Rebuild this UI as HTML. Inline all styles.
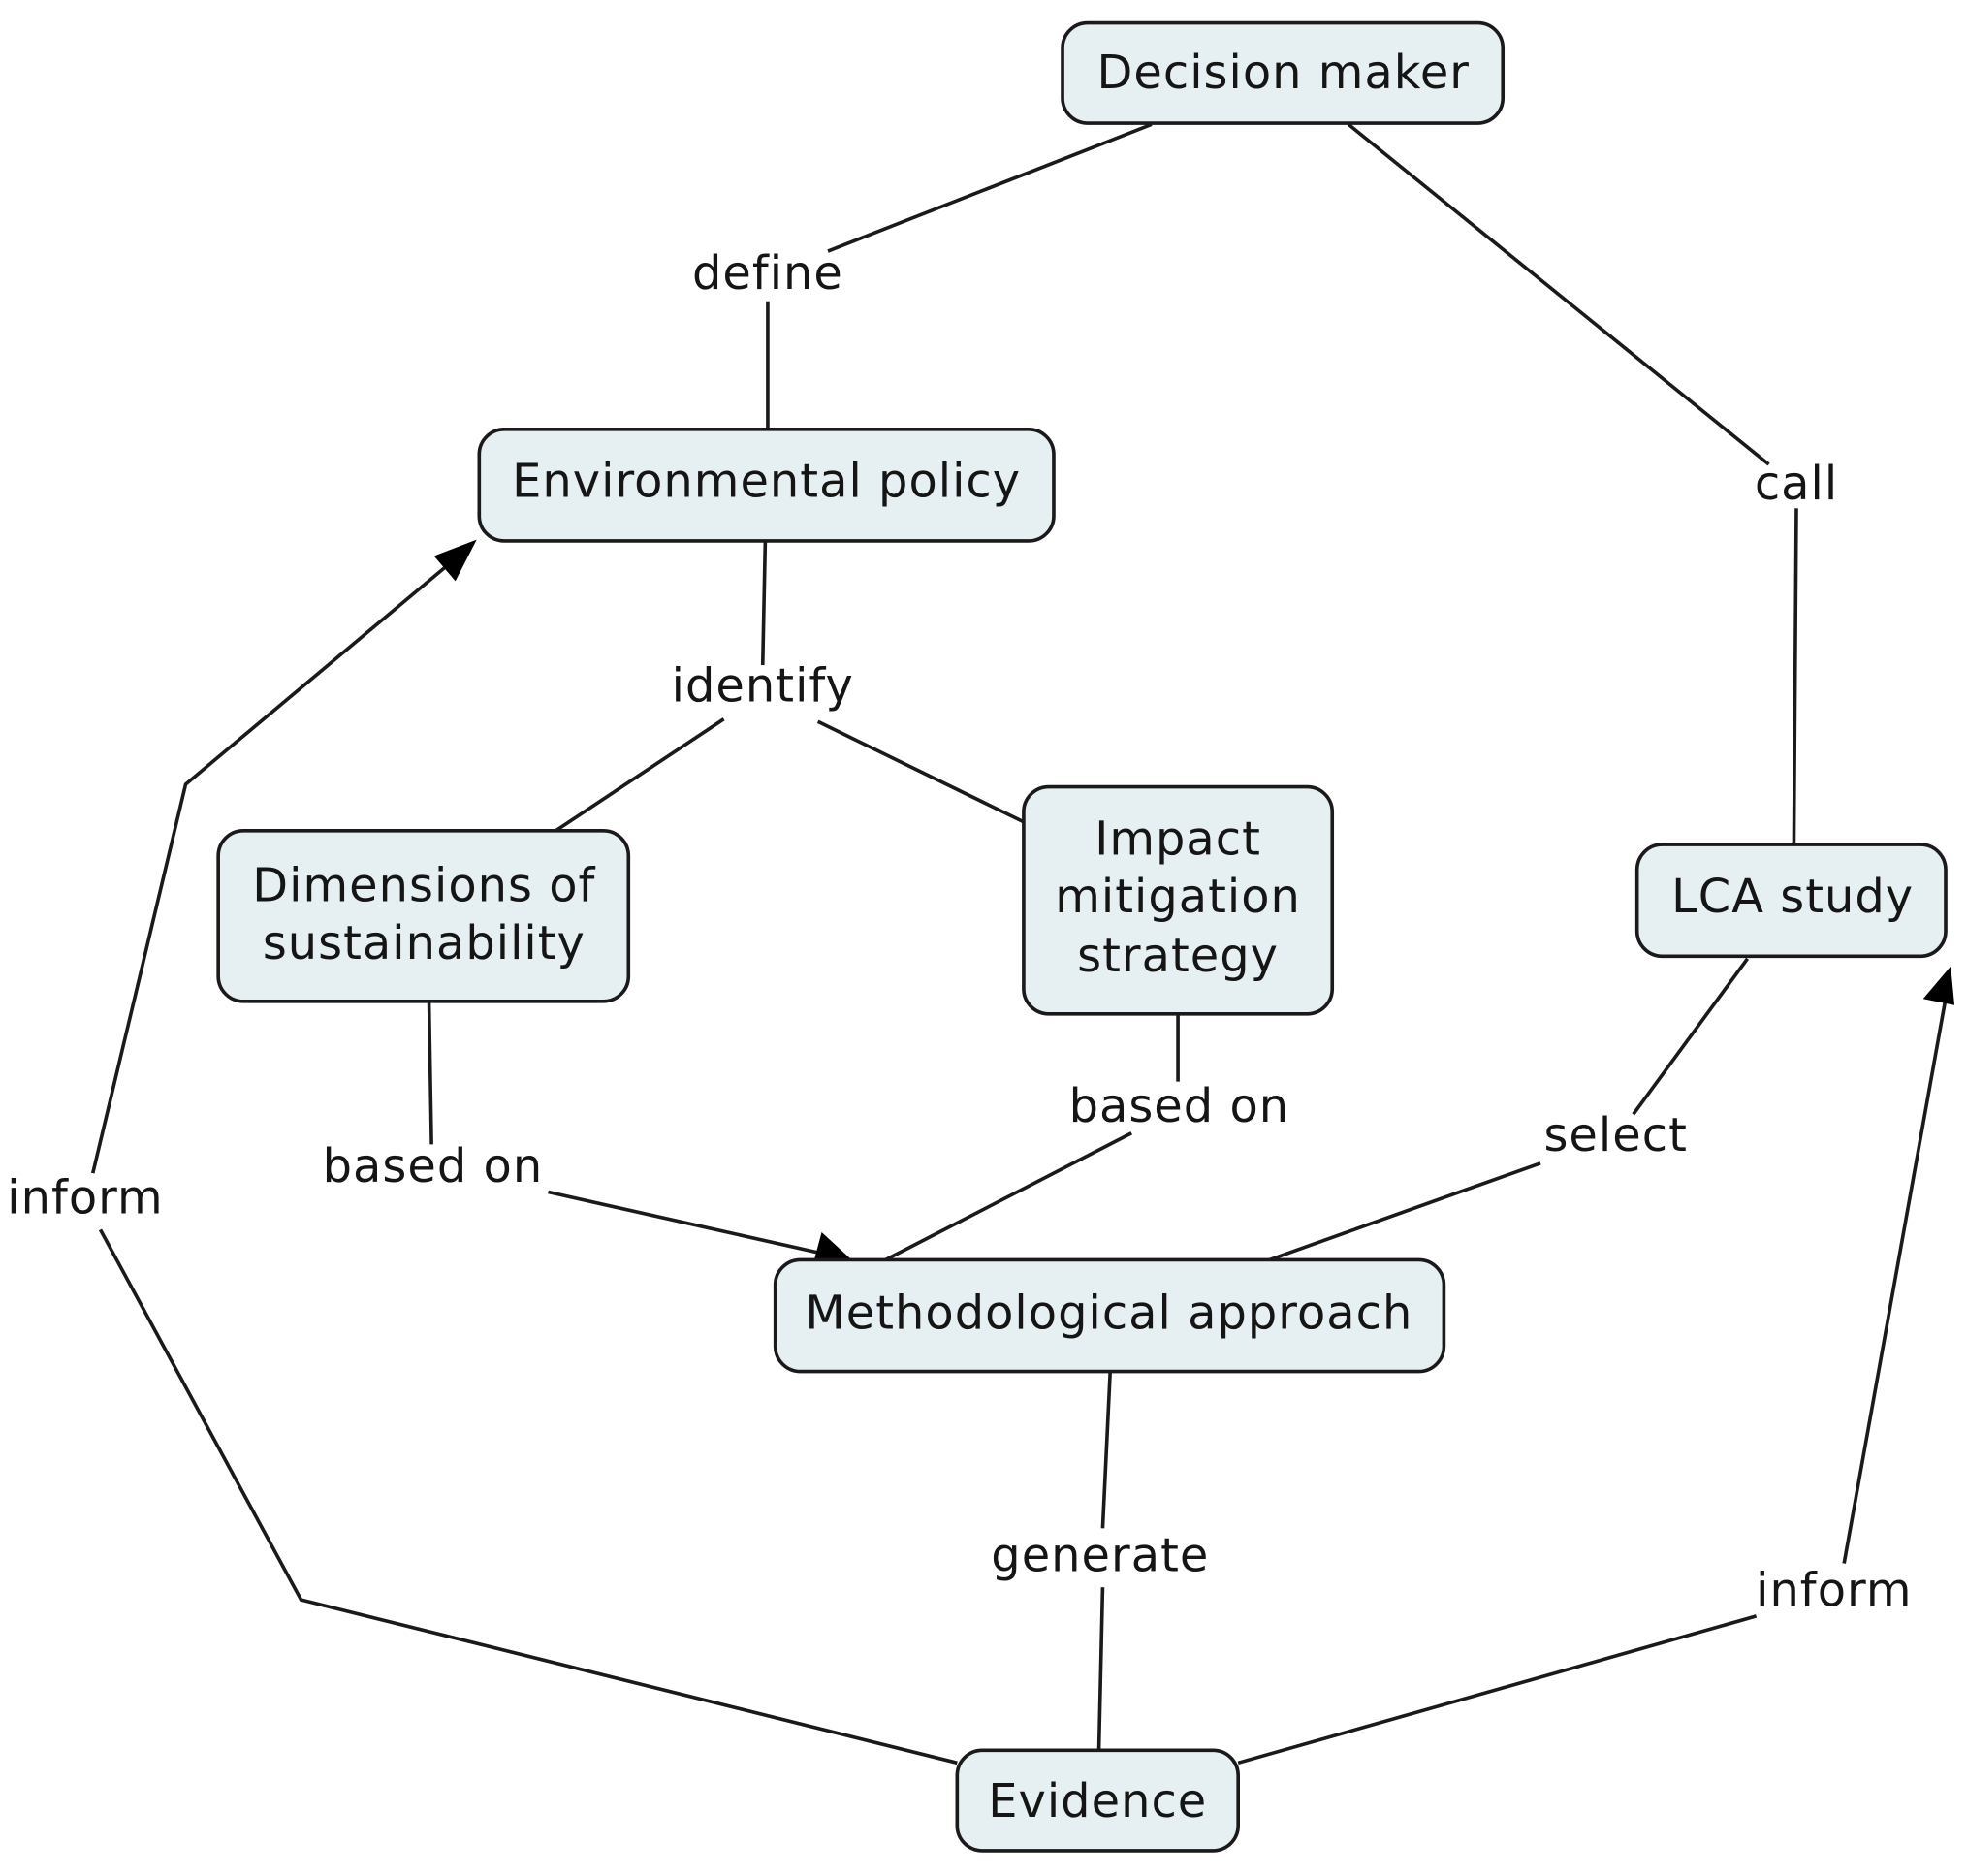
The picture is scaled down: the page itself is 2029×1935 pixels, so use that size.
<!DOCTYPE html>
<html><head><meta charset="utf-8"><style>
html,body{margin:0;padding:0;background:#fff;}
svg{display:block;}
text{font-family:"DejaVu Sans","Liberation Sans",sans-serif;font-size:37px;letter-spacing:0.8px;fill:#151515;text-anchor:middle;dominant-baseline:central;}
.n{fill:#e6f0f2;stroke:#1a1a1a;stroke-width:2.8;}
.l{stroke:#1a1a1a;stroke-width:2.8;fill:none;}
</style></head><body>
<svg width="2029" height="1935" viewBox="0 0 1568 1495" xmlns="http://www.w3.org/2000/svg">
<rect width="1568" height="1495" fill="#fff"/>
<g class="l">
<polyline class="l" points="918,99 660,200"/>
<polyline class="l" points="612,240 612,342"/>
<polyline class="l" points="1075,99 1410,370"/>
<polyline class="l" points="1432,405 1430,673"/>
<polyline class="l" points="610,432 608,530"/>
<polyline class="l" points="577,573 443,662"/>
<polyline class="l" points="652,575 816,655"/>
<polyline class="l" points="342,798 344,912"/>
<polyline class="l" points="437,950 660,1000"/>
<polyline class="l" points="939,808 939,862"/>
<polyline class="l" points="902,903 706,1004"/>
<polyline class="l" points="1393,764 1302,888"/>
<polyline class="l" points="1228,927 1012,1004"/>
<polyline class="l" points="885,1093 879,1218"/>
<polyline class="l" points="879,1265 876,1395"/>
<polyline class="l" points="763,1405 240,1275 80,980"/>
<polyline class="l" points="74,935 148,625 362,446"/>
<polyline class="l" points="987,1405 1400,1288"/>
<polyline class="l" points="1470,1246 1552,790"/>
</g>
<polygon points="680,1005 648,1008 655,982" fill="#000"/>
<polygon points="380,430 346,443 363,463" fill="#000"/>
<polygon points="1555,770 1533,796 1558,801" fill="#000"/>
<rect class="n" x="847" y="18" width="351" height="80" rx="20"/>
<rect class="n" x="382" y="342" width="458" height="89" rx="20"/>
<rect class="n" x="174" y="662" width="327" height="136" rx="20"/>
<rect class="n" x="816" y="627" width="246" height="181" rx="20"/>
<rect class="n" x="1305" y="673" width="246" height="89" rx="20"/>
<rect class="n" x="618" y="1004" width="533" height="89" rx="20"/>
<rect class="n" x="763" y="1395" width="224" height="80" rx="20"/>
<text x="1023" y="58">Decision maker</text>
<text x="611" y="384">Environmental policy</text>
<text x="338" y="706">Dimensions of</text>
<text x="338" y="752">sustainability</text>
<text x="939" y="669">Impact</text>
<text x="939" y="715">mitigation</text>
<text x="939" y="762">strategy</text>
<text x="1429" y="715">LCA study</text>
<text x="884" y="1047">Methodological approach</text>
<text x="875" y="1436">Evidence</text>
<text x="612" y="218">define</text>
<text x="1432" y="386">call</text>
<text x="608" y="547">identify</text>
<text x="345" y="930">based on</text>
<text x="940" y="882">based on</text>
<text x="1288" y="905">select</text>
<text x="877" y="1240">generate</text>
<text x="68" y="955">inform</text>
<text x="1462" y="1268">inform</text>
</svg>
</body></html>
